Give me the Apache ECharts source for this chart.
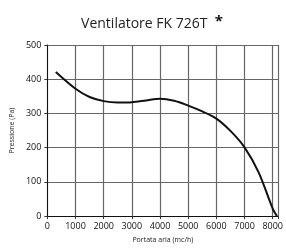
<!DOCTYPE html>
<html>
<head>
<meta charset="utf-8">
<script src="https://cdn.jsdelivr.net/npm/echarts@6/dist/echarts.min.js"></script>
<style>
  html, body { margin: 0; padding: 0; background: #fff; }
  #main { width: 286px; height: 248px; }
</style>
</head>
<body>
<div id="main"></div>
<script>
// portata (mc/h) e pressione (Pa)
var portata = [300, 1000, 1500, 2000, 2500, 3000, 3500, 4000, 4500, 5000, 5500, 6000, 6500, 7000, 7500, 8000, 8150];
var pressione = [421, 372, 348, 336, 332, 333, 338, 343, 337, 323, 306, 285, 249, 201, 128, 22, 0];
var yTicks = [0, 100, 200, 300, 400, 500];

var chart = echarts.init(document.getElementById('main'));

var dati = [];
for (var i = 0; i < portata.length; i++) {
  dati.push([portata[i], pressione[i]]);
}

var option = {
  animation: false,
  title: {
    text: 'Ventilatore FK 726T  {a|*}',
    left: 147,
    textAlign: 'center',
    top: 9,
    textStyle: {
      fontFamily: 'Open Sans',
      fontSize: 14,
      fontWeight: 'normal',
      color: '#222',
      rich: {
        a: { fontSize: 15, fontWeight: 'bold', color: '#111', verticalAlign: 'top', padding: [0, 0, 6, 0] }
      }
    }
  },
  grid: { left: 47, top: 45, width: 239, height: 179, containLabel: false },
  xAxis: {
    type: 'value',
    min: 0,
    max: 8200,
    interval: 1000,
    name: 'Portata aria (mc/h)',
    nameLocation: 'middle',
    nameGap: 19,
    nameTextStyle: { fontSize: 7, color: '#222', fontFamily: 'Open Sans' },
    axisLine: { show: true, lineStyle: { color: '#111', width: 1 } },
    axisTick: { show: true, length: 3, lineStyle: { color: '#333' } },
    axisLabel: {
      fontSize: 9, color: '#111', margin: 6, fontFamily: 'Open Sans',
      formatter: function (v) { return v > 8000 ? '' : String(v); }
    },
    splitLine: { show: true, lineStyle: { color: '#666', width: 1.2 } }
  },
  yAxis: {
    type: 'value',
    min: yTicks[0],
    max: yTicks[yTicks.length - 1],
    interval: 100,
    name: 'Pressione (Pa)',
    nameLocation: 'middle',
    nameGap: 23,
    nameTextStyle: { fontSize: 7, color: '#222', fontFamily: 'Open Sans' },
    axisLine: { show: true, lineStyle: { color: '#111', width: 1 } },
    axisTick: { show: true, length: 3, lineStyle: { color: '#333' } },
    axisLabel: { fontSize: 9, color: '#111', margin: 6, fontFamily: 'Open Sans' },
    splitLine: { show: true, lineStyle: { color: '#666', width: 1.2 } }
  },
  series: [{
    type: 'line',
    data: dati,
    smooth: 0.3,
    showSymbol: false,
    lineStyle: { color: '#111', width: 2 }
  }]
};

chart.setOption(option);
</script>
</body>
</html>
